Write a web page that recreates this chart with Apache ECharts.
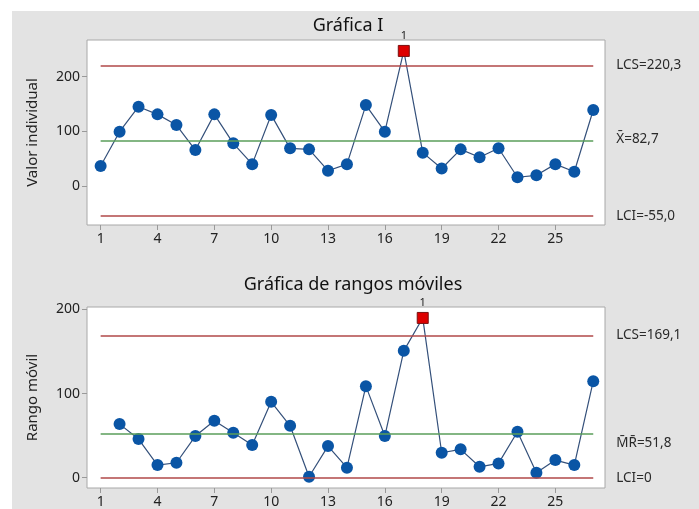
<!DOCTYPE html>
<html>
<head>
<meta charset="utf-8">
<script src="https://cdn.jsdelivr.net/npm/echarts@6/dist/echarts.min.js"></script>
<style>
html,body{margin:0;padding:0;background:#fff;}
#c{width:699px;height:509px;}
</style>
</head>
<body>
<div id="c"></div>
<script>
// ---- data ----
const observations = [1,2,3,4,5,6,7,8,9,10,11,12,13,14,15,16,17,18,19,20,21,22,23,24,25,26,27];
const individualValues = [36.6, 99.3, 145, 131, 111.5, 65.8, 131, 78, 40, 130, 68.9, 67, 28, 40, 148, 99.3, 247, 61, 32, 67, 52.5, 69, 16, 19.6, 40, 26, 139];
const movingRanges = [null, 63.7, 45.9, 15, 17.8, 49.5, 67.6, 53.4, 38.8, 90.2, 61.7, 1.2, 37.6, 11.9, 108.8, 49.5, 150.7, 189.8, 29.7, 33.7, 13, 17, 54.6, 6, 21, 15, 114.7];
const individualOutOfControl = [17];
const movingRangeOutOfControl = [18];
const individualLimits = [220.3, 82.7, -55.0];
const individualLimitLabels = ['LCS=220,3', 'X\u0304=82,7', 'LCI=-55,0'];
const movingRangeLimits = [169.1, 51.8, 0];
const movingRangeLimitLabels = ['LCS=169,1', 'M\u0304R\u0304=51,8', 'LCI=0'];
const xTickLabels = [1,4,7,10,13,16,19,22,25];
const individualYTicks = [0,100,200];
const movingRangeYTicks = [0,100,200];
const titles = ['Gráfica I', 'Gráfica de rangos móviles'];
const yNames = ['Valor individual', 'Rango móvil'];

// ---- chart ----
const FONT = 'Noto Sans';
const chart = echarts.init(document.getElementById('c'), null, {renderer:'canvas'});

function buildData(vals, ooc){
  const out = [];
  vals.forEach((v,i)=>{
    if (v === null) return;
    const o = observations[i];
    if (ooc.indexOf(o) >= 0) {
      out.push({
        value:[o,v], symbol:'rect', symbolSize:11,
        itemStyle:{color:'#dd0000', borderColor:'#7a1010', borderWidth:1},
        label:{show:true, position:'top', distance:4, formatter:'1', fontSize:11, color:'#222', fontFamily:FONT}
      });
    } else {
      out.push({value:[o,v]});
    }
  });
  return out;
}

function buildMarkLine(limits, labels, labelOffsets){
  const colors = ['#b04848', '#5a9e5a', '#b04848'];
  return {
    silent:true, symbol:'none', animation:false,
    data: limits.map((v,k)=>[
      {coord:[observations[0], v], lineStyle:{color:colors[k], width:1.5, type:'solid'},
       label:{show:true, position:'end', distance:23, formatter:labels[k], color:'#2a2a2a', fontSize:13.5, fontFamily:FONT, offset:labelOffsets[k]}},
      {coord:[observations[observations.length-1], v]}
    ])
  };
}

function xAxisDef(gi){
  return {
    type:'value', gridIndex:gi, min:0.28, max:27.62,
    axisLine:{show:false, onZero:false},
    axisTick:{show:true, length:5, customValues:xTickLabels, lineStyle:{color:'#999'}},
    axisLabel:{customValues:xTickLabels, color:'#222', fontSize:14, fontFamily:FONT, margin:7},
    splitLine:{show:false}
  };
}
function yAxisDef(gi, min, max, ticks, name, nameGap){
  return {
    type:'value', gridIndex:gi, min:min, max:max,
    name:name, nameLocation:'middle', nameGap:nameGap,
    nameTextStyle:{color:'#222', fontSize:15, fontFamily:FONT},
    axisLine:{show:false, onZero:false},
    axisTick:{show:true, length:5, customValues:ticks, lineStyle:{color:'#999'}},
    axisLabel:{customValues:ticks, color:'#222', fontSize:14, fontFamily:FONT, margin:7},
    splitLine:{show:false}
  };
}

const option = {
  animation:false,
  backgroundColor:'#e3e3e3',
  graphic:[{type:'rect', left:0, top:0, shape:{width:699, height:11}, style:{fill:'#fff'}, silent:true},
           {type:'rect', left:0, top:0, shape:{width:12, height:509}, style:{fill:'#fff'}, silent:true}],
  title:[
    {text:titles[0], left:343, top:12, textAlign:'center', textStyle:{fontSize:18, fontWeight:'normal', color:'#111', fontFamily:FONT}},
    {text:titles[1], left:348, top:271, textAlign:'center', textStyle:{fontSize:18, fontWeight:'normal', color:'#111', fontFamily:FONT}}
  ],
  grid:[
    {left:87, top:40, width:518, height:185, show:true, backgroundColor:'#fff', borderColor:'#a8a8a8', borderWidth:1},
    {left:87, top:307, width:518, height:181, show:true, backgroundColor:'#fff', borderColor:'#a8a8a8', borderWidth:1}
  ],
  xAxis:[xAxisDef(0), xAxisDef(1)],
  yAxis:[
    yAxisDef(0, -71.3, 267, individualYTicks, yNames[0], 47),
    yAxisDef(1, -12.2, 202.8, movingRangeYTicks, yNames[1], 47)
  ],
  series:[
    {type:'line', xAxisIndex:0, yAxisIndex:0, data:buildData(individualValues, individualOutOfControl),
     symbol:'circle', symbolSize:12, lineStyle:{color:'#34507a', width:1.2}, itemStyle:{color:'#0a55a5'},
     markLine:buildMarkLine(individualLimits, individualLimitLabels, [[0,0],[0,-2],[0,0]])},
    {type:'line', xAxisIndex:1, yAxisIndex:1, data:buildData(movingRanges, movingRangeOutOfControl),
     symbol:'circle', symbolSize:12, lineStyle:{color:'#34507a', width:1.2}, itemStyle:{color:'#0a55a5'},
     markLine:buildMarkLine(movingRangeLimits, movingRangeLimitLabels, [[0,0],[0,9],[0,0]])}
  ]
};
chart.setOption(option);
</script>
</body>
</html>
